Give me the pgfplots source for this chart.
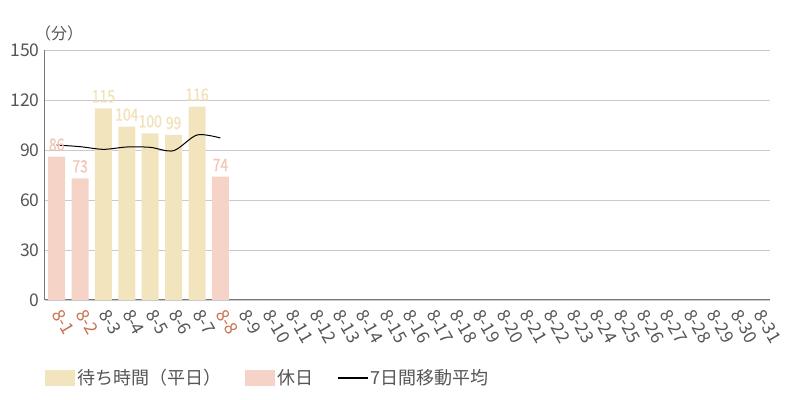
\documentclass[border=0pt]{standalone}
\usepackage{pgfplots}
\pgfplotsset{compat=1.18}
\usepackage{fontspec}
\setmainfont{Noto Sans CJK JP}
\newfontfamily\condfont[FakeStretch=0.82, FakeBold=1]{Noto Sans CJK JP}

\definecolor{wkbar}{HTML}{F2E5BE}
\definecolor{holbar}{HTML}{F5D4C7}
\definecolor{wklab}{HTML}{F0E1B6}
\definecolor{hollab}{HTML}{F2C5B5}
\definecolor{holtick}{HTML}{C9714F}
\definecolor{txt}{HTML}{555555}
\definecolor{gridc}{HTML}{CBC8CF}

\begin{document}
\begin{tikzpicture}
\begin{axis}[
  scale only axis,
  width=725pt, height=250pt,
  xmin=0.5, xmax=31.5,
  ymin=0, ymax=150,
  clip=false,
  ytick={0,30,60,90,120,150},
  xtick={1,...,31},
  xticklabels={{\color{holtick}8-1},{\color{holtick}8-2},8-3,8-4,8-5,8-6,8-7,{\color{holtick}8-8},
    8-9,8-10,8-11,8-12,8-13,8-14,8-15,8-16,8-17,8-18,8-19,8-20,8-21,8-22,8-23,8-24,
    8-25,8-26,8-27,8-28,8-29,8-30,8-31},
  axis lines*=left,
  axis line style={color=txt!80, line width=1pt, -},
  major tick length=0pt,
  ymajorgrids,
  grid style={color=gridc, line width=0.8pt},
  /pgf/number format/assume math mode=true,
  yticklabel style={font=\fontsize{17.5}{17.5}\selectfont, text=txt, xshift=-2pt},
  xticklabel style={font=\fontsize{17.5}{17.5}\selectfont, text=txt, inner sep=0pt,
    xshift=0.5pt, yshift=-11pt, rotate=-60, anchor=west},
  legend style={at={(0,0)}, anchor=west, yshift=-78pt, draw=none, fill=none,
    inner sep=0pt, font=\fontsize{18}{18}\selectfont, text=txt,
    /tikz/every even column/.append style={column sep=22pt}},
  legend columns=-1,
  legend cell align=left,
]
\addplot[ybar, bar width=17pt, bar shift=0pt, fill=wkbar, draw=none,
  nodes near coords,
  nodes near coords style={font=\condfont\fontsize{17}{17}\selectfont, text=wklab, anchor=south, inner sep=0pt, yshift=5.5pt},
  legend image code/.code={\fill[wkbar] (0pt,-8pt) rectangle (30pt,8pt);}]
  coordinates {(3,115) (4,104) (5,100) (6,99) (7,116)};
\addlegendentry{待ち時間（平日）}
\addplot[ybar, bar width=17pt, bar shift=0pt, fill=holbar, draw=none,
  nodes near coords,
  nodes near coords style={font=\condfont\fontsize{17}{17}\selectfont, text=hollab, anchor=south, inner sep=0pt, yshift=5.5pt},
  legend image code/.code={\fill[holbar] (0pt,-8pt) rectangle (30pt,8pt);}]
  coordinates {(1,86) (2,73) (8,74)};
\addlegendentry{休日}
\addplot[black, line width=1pt, smooth, mark=none,
  legend image code/.code={\draw[black, line width=1.3pt] (0pt,0pt) -- (30pt,0pt);}]
  coordinates {(1,93) (2,92) (3,90.4) (4,91.8) (5,91.6) (6,89.6) (7,99) (8,97.2)};
\addlegendentry{7日間移動平均}
\node[anchor=west, text=txt, font=\fontsize{16}{16}\selectfont, inner sep=0pt]
  at (axis description cs:0,1) [xshift=-10pt, yshift=17pt] {（分）};
\end{axis}
\pgfresetboundingbox
\path[use as bounding box] ([shift={(-45pt,-100pt)}]current axis.south west)
  rectangle ([shift={(30pt,50pt)}]current axis.north east);
\end{tikzpicture}
\end{document}
